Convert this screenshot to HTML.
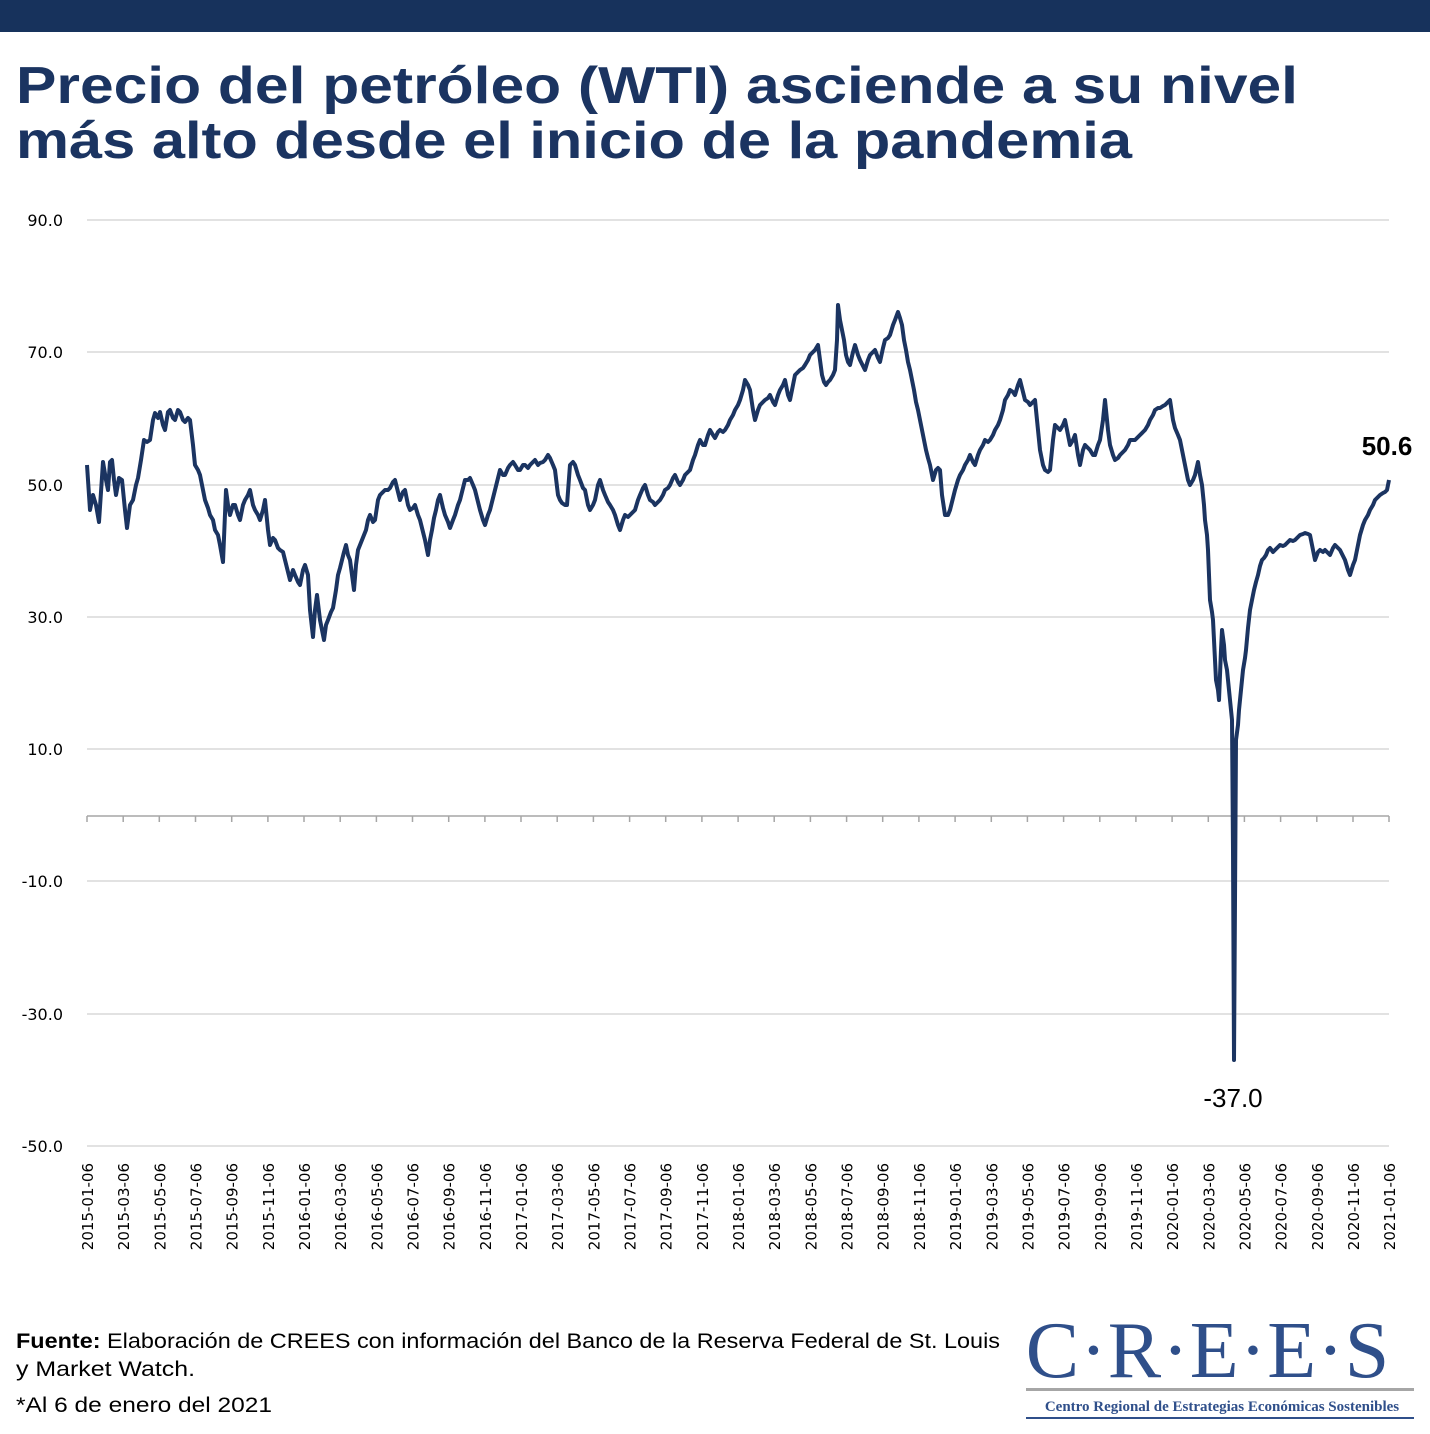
<!DOCTYPE html>
<html><head><meta charset="utf-8"><style>
html,body{margin:0;padding:0;background:#fff;width:1430px;height:1434px;overflow:hidden}
</style></head><body>
<svg width="1430" height="1434" viewBox="0 0 1430 1434" xmlns="http://www.w3.org/2000/svg">
<rect x="0" y="0" width="1430" height="32" fill="#17325c"/>
<g font-family="Liberation Sans, sans-serif" font-weight="bold" font-size="52" fill="#1b3461" lengthAdjust="spacingAndGlyphs">
<text x="16" y="103" textLength="1282" lengthAdjust="spacingAndGlyphs">Precio del petróleo (WTI) asciende a su nivel</text>
<text x="16" y="158" textLength="1116" lengthAdjust="spacingAndGlyphs">más alto desde el inicio de la pandemia</text>
</g>
<g stroke="#d9d9d9" stroke-width="1.5">
<line x1="87" y1="220" x2="1389" y2="220"/><line x1="87" y1="352" x2="1389" y2="352"/>
<line x1="87" y1="485" x2="1389" y2="485"/><line x1="87" y1="617" x2="1389" y2="617"/>
<line x1="87" y1="749" x2="1389" y2="749"/><line x1="87" y1="881" x2="1389" y2="881"/>
<line x1="87" y1="1014" x2="1389" y2="1014"/><line x1="87" y1="1146" x2="1389" y2="1146"/>
</g>
<line x1="87" y1="816" x2="1389" y2="816" stroke="#a6a6a6" stroke-width="1.5"/>
<g stroke="#a6a6a6" stroke-width="1.5">
<path d="M87 816v6M123.2 816v6M159.3 816v6M195.5 816v6M231.7 816v6M267.9 816v6M304 816v6M340.2 816v6M376.4 816v6M412.5 816v6M448.7 816v6M484.9 816v6M521 816v6M557.2 816v6M593.4 816v6M629.6 816v6M665.7 816v6M701.9 816v6M738.1 816v6M774.2 816v6M810.4 816v6M846.6 816v6M882.7 816v6M918.9 816v6M955.1 816v6M991.3 816v6M1027.4 816v6M1063.6 816v6M1099.8 816v6M1135.9 816v6M1172.1 816v6M1208.3 816v6M1244.4 816v6M1280.6 816v6M1316.8 816v6M1353 816v6M1389 816v6"/>
</g>
<g font-family="DejaVu Sans, sans-serif" font-size="16" fill="#000" text-anchor="end">
<text x="63" y="226">90.0</text><text x="63" y="358">70.0</text><text x="63" y="491">50.0</text>
<text x="63" y="623">30.0</text><text x="63" y="755">10.0</text><text x="63" y="887">-10.0</text>
<text x="63" y="1020">-30.0</text><text x="63" y="1152">-50.0</text>
</g>
<g font-family="DejaVu Sans, sans-serif" font-size="15" fill="#000" text-anchor="end">
<text transform="translate(93,1163) rotate(-90)">2015-01-06</text>
<text transform="translate(129.2,1163) rotate(-90)">2015-03-06</text>
<text transform="translate(165.3,1163) rotate(-90)">2015-05-06</text>
<text transform="translate(201.5,1163) rotate(-90)">2015-07-06</text>
<text transform="translate(237.7,1163) rotate(-90)">2015-09-06</text>
<text transform="translate(273.9,1163) rotate(-90)">2015-11-06</text>
<text transform="translate(310,1163) rotate(-90)">2016-01-06</text>
<text transform="translate(346.2,1163) rotate(-90)">2016-03-06</text>
<text transform="translate(382.4,1163) rotate(-90)">2016-05-06</text>
<text transform="translate(418.5,1163) rotate(-90)">2016-07-06</text>
<text transform="translate(454.7,1163) rotate(-90)">2016-09-06</text>
<text transform="translate(490.9,1163) rotate(-90)">2016-11-06</text>
<text transform="translate(527,1163) rotate(-90)">2017-01-06</text>
<text transform="translate(563.2,1163) rotate(-90)">2017-03-06</text>
<text transform="translate(599.4,1163) rotate(-90)">2017-05-06</text>
<text transform="translate(635.6,1163) rotate(-90)">2017-07-06</text>
<text transform="translate(671.7,1163) rotate(-90)">2017-09-06</text>
<text transform="translate(707.9,1163) rotate(-90)">2017-11-06</text>
<text transform="translate(744.1,1163) rotate(-90)">2018-01-06</text>
<text transform="translate(780.2,1163) rotate(-90)">2018-03-06</text>
<text transform="translate(816.4,1163) rotate(-90)">2018-05-06</text>
<text transform="translate(852.6,1163) rotate(-90)">2018-07-06</text>
<text transform="translate(888.7,1163) rotate(-90)">2018-09-06</text>
<text transform="translate(924.9,1163) rotate(-90)">2018-11-06</text>
<text transform="translate(961.1,1163) rotate(-90)">2019-01-06</text>
<text transform="translate(997.3,1163) rotate(-90)">2019-03-06</text>
<text transform="translate(1033.4,1163) rotate(-90)">2019-05-06</text>
<text transform="translate(1069.6,1163) rotate(-90)">2019-07-06</text>
<text transform="translate(1105.8,1163) rotate(-90)">2019-09-06</text>
<text transform="translate(1141.9,1163) rotate(-90)">2019-11-06</text>
<text transform="translate(1178.1,1163) rotate(-90)">2020-01-06</text>
<text transform="translate(1214.3,1163) rotate(-90)">2020-03-06</text>
<text transform="translate(1250.4,1163) rotate(-90)">2020-05-06</text>
<text transform="translate(1286.6,1163) rotate(-90)">2020-07-06</text>
<text transform="translate(1322.8,1163) rotate(-90)">2020-09-06</text>
<text transform="translate(1359,1163) rotate(-90)">2020-11-06</text>
<text transform="translate(1395,1163) rotate(-90)">2021-01-06</text>
</g>
<polyline fill="none" stroke="#1b3461" stroke-width="4" stroke-linejoin="round" points="87,465 90,510 93,495 96,505 99,522 103,462 106,480 108,490 110,462 112,460 114,480 116,495 119,478 122,480 125,510 127,528 130,505 133,500 136,485 138,478 141,460 144,440 147,442 150,440 153,420 155,413 158,418 160,412 163,425 165,430 168,412 170,410 173,418 175,420 178,410 180,412 183,420 185,422 188,418 190,420 193,445 195,465 198,470 200,475 203,490 205,500 208,508 210,515 213,520 215,530 218,535 220,545 223,562 226,490 228,505 230,515 233,505 235,505 238,515 240,520 243,505 245,500 248,495 250,490 253,505 255,510 258,515 260,520 263,510 265,500 268,530 270,545 273,538 275,540 278,548 280,550 283,552 285,560 288,572 290,580 293,570 295,575 298,582 300,585 303,570 305,565 308,575 310,610 313,637 315,610 317,595 320,620 322,630 324,640 326,625 328,620 331,612 333,608 336,590 338,575 340,568 342,560 344,552 346,545 348,555 350,560 352,575 354,590 356,565 358,550 360,545 362,540 364,535 366,530 368,520 370,515 373,522 375,520 378,500 380,495 383,492 385,490 388,490 390,488 393,482 395,480 398,492 400,500 403,492 405,490 408,505 410,510 413,508 415,505 418,515 420,520 423,532 425,540 428,555 430,540 432,530 434,518 436,510 438,500 440,495 443,508 445,515 448,522 450,528 453,520 455,515 458,505 460,500 463,488 465,480 468,480 470,478 473,485 475,490 478,502 480,510 483,520 485,525 488,515 490,510 493,498 495,490 498,478 500,470 503,475 505,475 508,468 510,465 513,462 515,465 518,470 520,470 523,465 525,465 528,468 530,465 533,462 535,460 538,465 540,463 543,462 545,460 548,455 550,458 553,465 555,470 558,495 560,500 562,503 565,505 567,505 570,465 573,462 575,465 578,475 580,480 583,488 585,490 588,505 590,510 593,505 595,500 598,485 600,480 603,490 605,495 608,502 610,505 613,510 615,515 618,525 620,530 623,520 625,515 628,517 630,515 633,512 635,510 638,500 640,495 643,488 645,485 648,495 650,500 653,502 655,505 658,502 660,500 663,495 665,490 668,488 670,485 673,478 675,475 678,482 680,485 683,480 685,475 688,472 690,470 693,460 695,455 698,445 700,440 703,445 705,445 708,435 710,430 713,435 715,438 718,432 720,430 723,432 725,430 728,425 730,420 733,415 735,410 738,405 740,400 743,390 745,380 748,385 750,390 753,410 755,420 758,410 760,405 763,402 765,400 768,398 770,395 773,402 775,405 778,395 780,390 783,385 785,380 788,395 790,400 793,385 795,375 798,372 800,370 803,368 805,365 808,360 810,355 813,352 815,350 818,345 820,360 822,375 824,382 826,385 828,382 830,380 833,375 835,370 837,340 838,305 840,320 842,330 844,340 846,355 848,362 850,365 853,352 855,345 858,355 860,360 863,366 865,370 868,360 870,355 873,352 875,350 878,358 880,362 883,348 885,340 888,338 890,335 893,325 895,320 898,312 900,318 902,325 904,340 906,350 908,362 910,370 912,380 914,390 916,402 918,410 920,420 922,430 924,440 926,450 928,458 930,465 933,480 936,470 938,468 940,470 942,495 945,515 948,515 950,510 953,498 955,490 958,480 960,475 963,470 965,465 968,460 970,455 973,462 975,465 978,455 980,450 983,445 985,440 988,442 990,440 993,435 995,430 998,425 1000,420 1003,410 1005,400 1008,395 1010,390 1013,392 1015,395 1018,385 1020,380 1023,392 1025,400 1028,402 1030,405 1033,402 1035,400 1038,430 1040,450 1043,465 1045,470 1048,472 1050,470 1053,440 1055,425 1058,428 1060,430 1063,425 1065,420 1068,435 1070,445 1073,440 1075,435 1078,455 1080,465 1083,450 1085,445 1088,448 1090,450 1093,455 1095,455 1098,445 1100,440 1103,420 1105,400 1108,430 1110,445 1113,455 1115,460 1118,458 1120,455 1123,452 1125,450 1128,445 1130,440 1133,440 1135,440 1138,437 1140,435 1143,432 1145,430 1148,425 1150,420 1153,415 1155,410 1158,408 1160,408 1163,406 1165,405 1168,402 1170,400 1173,420 1175,428 1178,435 1180,440 1183,455 1185,465 1188,480 1190,485 1193,480 1195,475 1198,462 1200,475 1202,485 1204,505 1205,520 1207,535 1208,550 1209,575 1210,600 1212,612 1213,620 1215,660 1216,680 1218,690 1219,700 1221,650 1222,630 1224,645 1225,660 1227,670 1228,680 1230,700 1232,720 1233,850 1234,1060 1235,900 1236,740 1238,725 1239,710 1241,690 1243,670 1245,658 1246,650 1248,628 1250,610 1252,600 1254,590 1256,582 1258,575 1260,566 1262,560 1264,558 1266,555 1268,550 1270,548 1273,552 1275,550 1278,547 1280,545 1283,546 1285,545 1288,542 1290,540 1293,541 1295,540 1298,537 1300,535 1303,534 1305,533 1308,534 1310,535 1313,550 1315,560 1318,552 1320,550 1323,552 1325,550 1328,553 1330,555 1333,548 1335,545 1338,548 1340,550 1343,556 1345,560 1348,570 1350,575 1353,565 1355,560 1358,545 1360,535 1363,525 1365,520 1368,515 1370,510 1373,505 1375,500 1378,497 1380,495 1383,493 1385,492 1387,490 1389,480"/>
<text x="1387" y="455" font-family="Liberation Sans, sans-serif" font-weight="bold" font-size="26" text-anchor="middle">50.6</text>
<text x="1233" y="1107" font-family="Liberation Sans, sans-serif" font-size="26" text-anchor="middle">-37.0</text>
<g font-family="Liberation Sans, sans-serif" font-size="21" fill="#000">
<text x="16" y="1348" textLength="984" lengthAdjust="spacingAndGlyphs"><tspan font-weight="bold">Fuente:</tspan> Elaboración de CREES con información del Banco de la Reserva Federal de St. Louis</text>
<text x="16" y="1376" textLength="179" lengthAdjust="spacingAndGlyphs">y Market Watch.</text>
<text x="16" y="1412" textLength="256" lengthAdjust="spacingAndGlyphs">*Al 6 de enero del 2021</text>
</g>
<text x="1208" y="1377" font-family="Liberation Serif, serif" font-size="80" fill="#2f4f8a" text-anchor="middle" letter-spacing="1">C·R·E·E·S</text>
<rect x="1026" y="1388" width="388" height="3" fill="#a6a6a6"/>
<text x="1222" y="1411" font-family="Liberation Serif, serif" font-weight="bold" font-size="15" fill="#2f4f8a" text-anchor="middle">Centro Regional de Estrategias Económicas Sostenibles</text>
<rect x="1026" y="1417" width="388" height="2" fill="#2f4f8a"/>
</svg>
</body></html>
